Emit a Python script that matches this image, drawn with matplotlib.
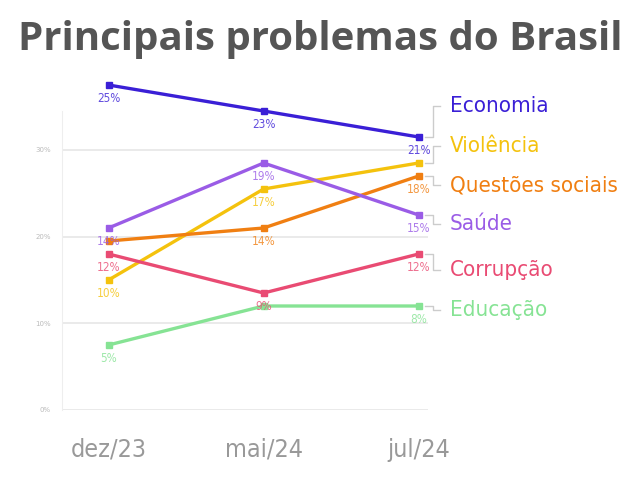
import matplotlib
matplotlib.use("Agg")
import matplotlib.pyplot as plt
from matplotlib import font_manager

# data
months = ["dez/23", "mai/24", "jul/24"]
economia = [25, 23, 21]
violencia = [10, 17, 19]
questoes = [13, 14, 18]
saude = [14, 19, 15]
corrupcao = [12, 9, 12]
educacao = [5, 8, 8]

series_names = ["Economia", "Violência", "Questões sociais", "Saúde", "Corrupção", "Educação"]
series_vals = [economia, violencia, questoes, saude, corrupcao, educacao]
colors = ["#3a1fd6", "#f4c20d", "#f07f12", "#9a5ce6", "#e94b73", "#86e394"]
# which point labels are visible (some are hidden in the original)
show_lbl = [[1, 1, 1], [1, 1, 0], [0, 1, 1], [1, 1, 1], [1, 1, 1], [1, 0, 1]]
# y position of names on the right (data units)
name_y = [23.4, 20.3, 17.3, 14.3, 10.8, 7.7]

ytick_pos = [0, 20 / 3, 40 / 3, 20]
ytick_lbl = ["0%", "10%", "20%", "30%"]

names = set(f.name for f in font_manager.fontManager.ttflist)
if "DejaVu Sans Condensed" in names:
    narrow = ["DejaVu Sans Condensed", "DejaVu Sans"]
    stretch = "normal"
else:
    narrow = ["DejaVu Sans"]
    stretch = "condensed"

fig = plt.figure(figsize=(6.4, 4.8), dpi=100)
ax = fig.add_axes([62 / 640, 70 / 480, 366 / 640, 27 * 13 / 480])
x = list(range(len(months)))

for name, vals, c, sh, ny in zip(series_names, series_vals, colors, show_lbl, name_y):
    ax.plot(x, vals, color=c, lw=2.4, marker="s", ms=4.5, solid_capstyle="round", zorder=3)
    for xi, v, s in zip(x, vals, sh):
        if s:
            ax.text(xi, v - 0.55, "%d%%" % v, color=c, alpha=0.8, fontsize=8.5,
                    ha="center", va="top", family=narrow, stretch=stretch, zorder=4)
    # leader bracket to the name on the right
    ax.plot([2.04, 2.09, 2.09, 2.14], [vals[-1], vals[-1], ny, ny], color="#cccccc",
            lw=1, clip_on=False, zorder=1)
    ax.text(2.2, ny, name, color=c, fontsize=16, family=narrow, stretch=stretch,
            va="center", ha="left", clip_on=False)

ax.set_xlim(-0.3, 2.06)
ax.set_ylim(0, 27)
ax.set_xticks(x)
ax.set_xticklabels(months, family=narrow, stretch=stretch, fontsize=18, color="#999999")
ax.set_yticks(ytick_pos)
ax.set_yticklabels(ytick_lbl, fontsize=5, color="#bbbbbb")
ax.tick_params(axis="x", length=0, pad=20)
ax.tick_params(axis="y", length=0, pad=8)
ax.grid(axis="y", color="#e6e6e6", lw=1.2)
ax.set_axisbelow(True)
for s in ["top", "right", "bottom"]:
    ax.spines[s].set_visible(False)
ax.spines["left"].set_color("#eeeeee")
ax.spines["left"].set_bounds(0, 23)

fig.text(0.5, 0.918, "Principais problemas do Brasil", ha="center", va="center",
         fontsize=29, fontweight="bold", color="#555555", family=["Open Sans", "DejaVu Sans"])

fig.savefig("out.png", dpi=100, facecolor="white")
